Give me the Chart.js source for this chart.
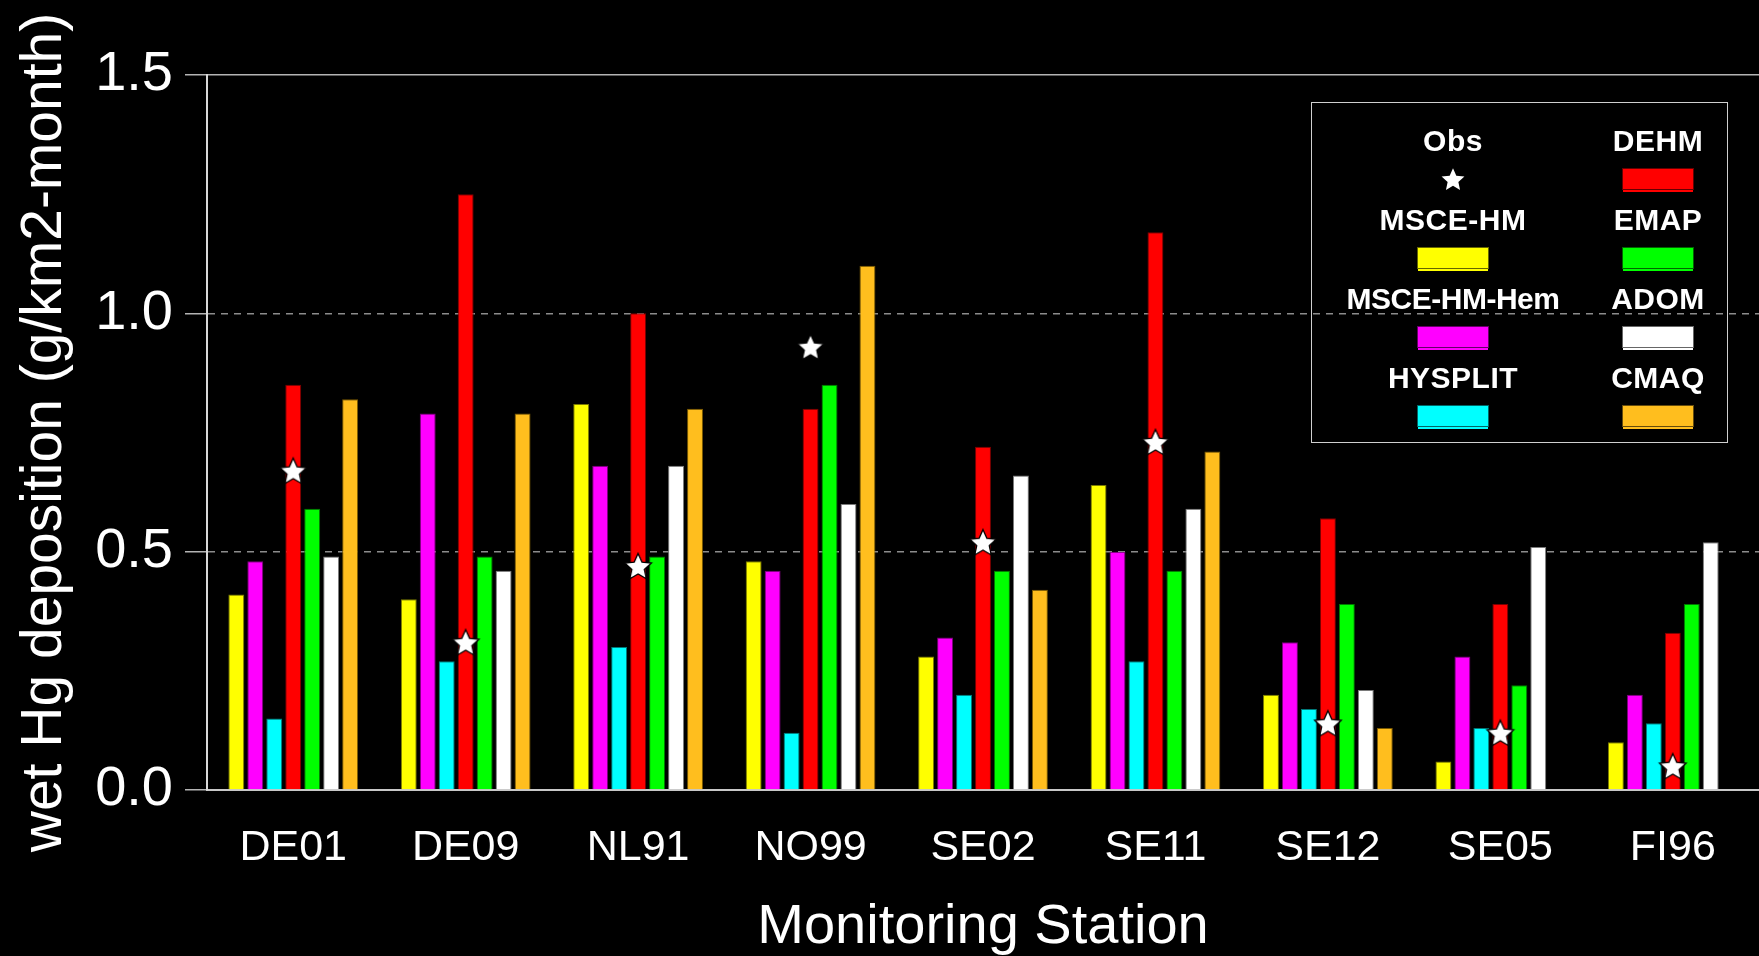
<!DOCTYPE html>
<html>
<head>
<meta charset="utf-8">
<script src="https://cdn.jsdelivr.net/npm/chart.js@4"></script>
<style>
  html, body { margin: 0; padding: 0; background: #000; }
  #wrap { position: relative; width: 1759px; height: 956px; overflow: hidden; }
  #legend {
    position: absolute; left: 1311px; top: 102px; width: 415px; height: 339px;
    border: 1.5px solid #d0d0d0; font-family: 'Liberation Sans', Arial, sans-serif;
  }
  .lg-label {
    position: absolute; transform: translate(-50%, -50%); white-space: nowrap;
    color: #fff; font-weight: bold; font-size: 30px; letter-spacing: 0.5px; line-height: 1;
  }
  .lg-swatch {
    position: absolute; transform: translate(-50%, -50%); width: 70px; height: 20px;
    border: 1px solid rgba(0,0,0,0.6); box-shadow: 0 3px 0 -1px currentColor;
  }
  .lg-star { position: absolute; transform: translate(-50%, -50%); }
</style>
</head>
<body>
<div id="wrap">
  <canvas id="chart" width="1759" height="956"></canvas>
  <div id="legend"></div>
</div>
<script>
document.addEventListener('DOMContentLoaded', function() {

// stations on the x axis
const stations = ['DE01', 'DE09', 'NL91', 'NO99', 'SE02', 'SE11', 'SE12', 'SE05', 'FI96'];

// modelled wet Hg deposition, g/km2-month
const msceHm    = [0.41, 0.40, 0.81, 0.48, 0.28, 0.64, 0.20, 0.06, 0.10];
const msceHmHem = [0.48, 0.79, 0.68, 0.46, 0.32, 0.50, 0.31, 0.28, 0.20];
const hysplit   = [0.15, 0.27, 0.30, 0.12, 0.20, 0.27, 0.17, 0.13, 0.14];
const dehm      = [0.85, 1.25, 1.00, 0.80, 0.72, 1.17, 0.57, 0.39, 0.33];
const emap      = [0.59, 0.49, 0.49, 0.85, 0.46, 0.46, 0.39, 0.22, 0.39];
const adom      = [0.49, 0.46, 0.68, 0.60, 0.66, 0.59, 0.21, 0.51, 0.52];
const cmaq      = [0.82, 0.79, 0.80, 1.10, 0.42, 0.71, 0.13, null, null];

// observed values (stars)
const obs = [0.67, 0.31, 0.47, 0.93, 0.52, 0.73, 0.14, 0.12, 0.05];

const yTicks = [0, 0.5, 1.0, 1.5];

const models = [
    { name: 'MSCE-HM',     data: msceHm,    color: '#ffff00', edge: '#7a7a00' },
    { name: 'MSCE-HM-Hem', data: msceHmHem, color: '#ff00ff', edge: '#7a007a' },
    { name: 'HYSPLIT',     data: hysplit,   color: '#00ffff', edge: '#007a7a' },
    { name: 'DEHM',        data: dehm,      color: '#ff0000', edge: '#7a0000' },
    { name: 'EMAP',        data: emap,      color: '#00ff00', edge: '#007a00' },
    { name: 'ADOM',        data: adom,      color: '#ffffff', edge: '#7a7a7a' },
    { name: 'CMAQ',        data: cmaq,      color: '#ffbe1e', edge: '#7a5a00' }
];

// white 5-point star used as point style
function makeStar(r, outline) {
    const s = Math.ceil(r * 2 + 4);
    const c = document.createElement('canvas');
    c.width = s; c.height = s;
    const g = c.getContext('2d');
    g.translate(s / 2, s / 2 + r * 0.1);
    g.beginPath();
    for (let i = 0; i < 10; i++) {
        const rad = i % 2 ? r * 0.47 : r;
        const a = -Math.PI / 2 + i * Math.PI / 5;
        g.lineTo(rad * Math.cos(a), rad * Math.sin(a));
    }
    g.closePath();
    g.fillStyle = '#fff';
    g.fill();
    if (outline) {
        g.strokeStyle = '#000';
        g.lineWidth = 1.3;
        g.stroke();
    }
    return c;
}

const font = "'Liberation Sans', Arial, sans-serif";

const datasets = models.map(m => ({
    type: 'bar',
    label: m.name,
    data: m.data,
    backgroundColor: m.color,
    borderColor: m.edge,
    borderWidth: 1,
    categoryPercentage: 0.77,
    barPercentage: 0.84,
    order: 1
}));

datasets.push({
    type: 'line',
    label: 'Obs',
    data: obs,
    showLine: false,
    pointStyle: makeStar(14, true),
    pointRadius: 14,
    order: 0
});

new Chart(document.getElementById('chart').getContext('2d'), {
    data: { labels: stations, datasets: datasets },
    options: {
        responsive: false,
        devicePixelRatio: 1,
        animation: false,
        layout: { autoPadding: false, padding: { top: 75, right: 0, bottom: 0, left: 0 } },
        plugins: {
            legend: { display: false },
            tooltip: { enabled: false }
        },
        scales: {
            x: {
                grid: { display: false, drawTicks: false },
                border: { display: true, color: '#c8c8c8', width: 2 },
                ticks: {
                    color: '#ffffff',
                    padding: 32,
                    font: { family: font, size: 43 }
                },
                title: {
                    display: true,
                    text: 'Monitoring Station',
                    color: '#ffffff',
                    padding: 0,
                    font: { family: font, size: 56, lineHeight: 1 }
                },
                afterFit: function(scale) { scale.height = 166; }
            },
            y: {
                min: 0,
                max: 1.5,
                afterBuildTicks: function(scale) {
                    scale.ticks = yTicks.map(v => ({ value: v }));
                },
                grid: {
                    color: c => (c.tick && c.tick.value > 0 && c.tick.value < 1.5) ? '#8c8c8c' : '#b4b4b4',
                    lineWidth: 1.5,
                    drawTicks: true,
                    tickLength: 22,
                    tickColor: '#b4b4b4',
                    tickWidth: 1.5
                },
                border: {
                    display: true,
                    color: '#d8d8d8',
                    width: 2,
                    dash: c => (c.tick && c.tick.value > 0 && c.tick.value < 1.5) ? [7, 6] : []
                },
                ticks: {
                    color: '#ffffff',
                    padding: 12,
                    font: { family: font, size: 56 },
                    callback: v => Number(v).toFixed(1)
                },
                title: {
                    display: true,
                    text: 'wet Hg deposition (g/km2-month)',
                    color: '#ffffff',
                    padding: { top: 11, bottom: 0 },
                    font: { family: font, size: 57 }
                },
                afterFit: function(scale) { scale.width = 207; }
            }
        }
    }
});

// legend box: two columns, name above its swatch
const legendEl = document.getElementById('legend');
const entries = [
    { name: 'Obs', star: true },
    models[0], models[1], models[2],
    models[3], models[4], models[5], models[6]
];
entries.forEach((e, i) => {
    const col = Math.floor(i / 4);
    const row = i % 4;
    const cx = 141 + col * 205;
    const label = document.createElement('div');
    label.className = 'lg-label';
    label.textContent = e.name;
    label.style.left = cx + 'px';
    label.style.top = (38 + row * 79) + 'px';
    if (e.name === 'MSCE-HM-Hem') label.style.letterSpacing = '-0.5px';
    legendEl.appendChild(label);
    const sy = 76 + row * 79;
    if (e.star) {
        const st = makeStar(12, false);
        st.className = 'lg-star';
        st.style.left = cx + 'px';
        st.style.top = sy + 'px';
        legendEl.appendChild(st);
    } else {
        const sw = document.createElement('div');
        sw.className = 'lg-swatch';
        sw.style.left = cx + 'px';
        sw.style.top = sy + 'px';
        sw.style.background = e.color;
        sw.style.color = e.color;
        legendEl.appendChild(sw);
    }
});

});
</script>
</body>
</html>
